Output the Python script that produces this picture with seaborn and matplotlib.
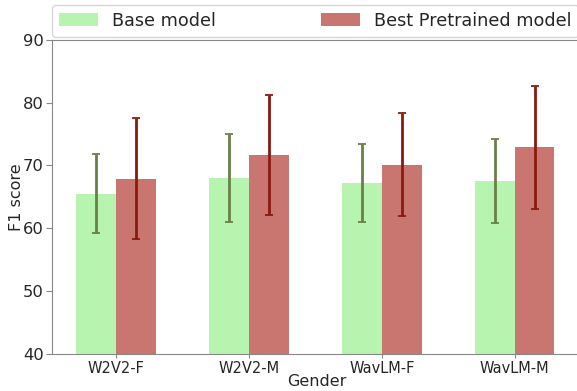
import numpy as np
import pandas as pd
import matplotlib
matplotlib.use("Agg")
import matplotlib.pyplot as plt
import seaborn as sns

groups = ["W2V2-F", "W2V2-M", "WavLM-F", "WavLM-M"]
models = ["Base model", "Best Pretrained model"]
base_mean = [65.5, 68.0, 67.2, 67.5]
base_err = [6.3, 7.0, 6.2, 6.7]
best_mean = [67.9, 71.7, 70.1, 72.9]
best_err = [9.6, 9.6, 8.2, 9.8]

df = pd.DataFrame({
    "Gender": groups * 2,
    "model": [models[0]] * 4 + [models[1]] * 4,
    "F1": base_mean + best_mean,
})

sns.set_style("white")
plt.rcParams["font.family"] = ["DejaVu Sans"]

fig = plt.figure(figsize=(5.77, 3.91), dpi=100)
ax = fig.add_axes([0.090, 0.095, 0.917, 0.803])

pal = {models[0]: "#b6f4af", models[1]: "#c97570"}
sns.barplot(data=df, x="Gender", y="F1", hue="model", palette=pal,
            width=0.6, saturation=1, errorbar=None, linewidth=0, ax=ax)

# error bars at bar centres
x = np.arange(len(groups))
ax.errorbar(x - 0.15, base_mean, yerr=base_err, fmt="none", ecolor="#6b7f47",
            elinewidth=2, capsize=3, capthick=1.3)
ax.errorbar(x + 0.15, best_mean, yerr=best_err, fmt="none", ecolor="#8b1a0e",
            elinewidth=2, capsize=3, capthick=1.3)

ax.set_ylim(40, 90)
ax.set_yticks([40, 50, 60, 70, 80, 90])
ax.set_xlim(-0.485, 3.5)
ax.tick_params(axis="y", labelsize=11.8, left=True, length=4, pad=2, color="#888888")
ax.tick_params(axis="x", labelsize=10.5, bottom=True, length=3, pad=2, color="#888888")
ax.set_xlabel("Gender", fontsize=11.5, labelpad=-1)
ax.set_ylabel("F1 score", fontsize=11.5, labelpad=-1)
for s in ax.spines.values():
    s.set_color("#888888")

ax.legend(loc="lower left", bbox_to_anchor=(0, 1.01, 0.995, 0.1), mode="expand",
          ncol=2, fontsize=12.7, frameon=True, handlelength=2.2, borderpad=0.4,
          borderaxespad=0)

fig.savefig("out.png", dpi=100)
